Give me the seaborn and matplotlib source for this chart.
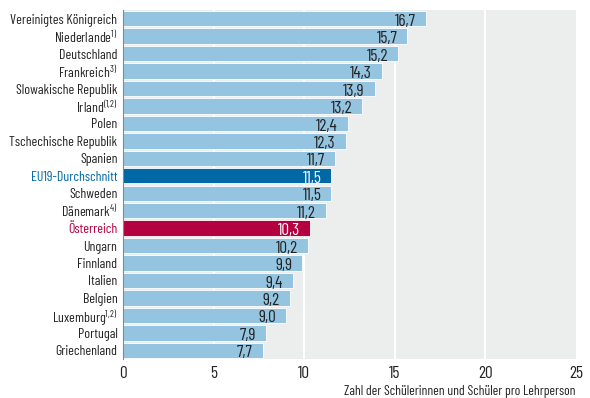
import matplotlib
matplotlib.use('Agg')
import matplotlib.pyplot as plt
from matplotlib import font_manager as fm
import seaborn as sns
import pandas as pd

# data
countries = ['Vereinigtes Königreich', 'Niederlande$^{1)}$', 'Deutschland', 'Frankreich$^{3)}$',
             'Slowakische Republik', 'Irland$^{(1{,}2)}$', 'Polen', 'Tschechische Republik',
             'Spanien', 'EU19-Durchschnitt', 'Schweden', 'Dänemark$^{4)}$', 'Österreich',
             'Ungarn', 'Finnland', 'Italien', 'Belgien', 'Luxemburg$^{1{,}2)}$', 'Portugal',
             'Griechenland']
values = [16.7, 15.7, 15.2, 14.3, 13.9, 13.2, 12.4, 12.3, 11.7, 11.5, 11.5, 11.2, 10.3,
          10.2, 9.9, 9.4, 9.2, 9.0, 7.9, 7.7]
xticks = [0, 5, 10, 15, 20, 25]
xlabel = 'Zahl der Schülerinnen und Schüler pro Lehrperson'

light = '#94c4e0'
eu_col = '#0068a5'
at_col = '#b4003e'
txt = '#222222'

colors = {c: light for c in countries}
colors['EU19-Durchschnitt'] = eu_col
colors['Österreich'] = at_col

df = pd.DataFrame({'land': countries, 'wert': values})

# pick a condensed family if one is there
installed = {f.name for f in fm.fontManager.ttflist}
wanted = ['Barlow Condensed', 'Archivo Narrow', 'Asap Condensed', 'Liberation Sans']
main_font = [f for f in wanted if f in installed][0]

sns.set_style('white')
plt.rcParams['font.family'] = [main_font, 'DejaVu Sans']
plt.rcParams['mathtext.fontset'] = 'custom'
plt.rcParams['mathtext.rm'] = main_font
plt.rcParams['mathtext.default'] = 'rm'

fig = plt.figure(figsize=(5.9, 3.98), dpi=100)
ax = fig.add_axes([123 / 590, 39 / 398, 453 / 590, 349 / 398])
ax.set_facecolor('#eceeee')

sns.barplot(data=df, y='land', x='wert', hue='land', palette=colors, legend=False,
            dodge=False, width=0.88, saturation=1, edgecolor='white', linewidth=0.6,
            ax=ax, zorder=2)

ax.set_xlim(0, 25)
ax.set_xticks(xticks)
ax.set_xticklabels([str(t) for t in xticks], fontsize=12.5, color=txt)
for t in xticks[1:-1]:
    ax.axvline(t, color='white', lw=1.5, zorder=1)

for i, (c, v) in enumerate(zip(countries, values)):
    col = 'white' if c in ('EU19-Durchschnitt', 'Österreich') else txt
    ax.text(v - 0.55, i + 0.15, f'{v:.1f}'.replace('.', ','), ha='right', va='center',
            fontsize=12.5, color=col, zorder=3)

ax.tick_params(axis='x', length=0, pad=5)
ax.tick_params(axis='y', length=0, pad=4, labelsize=10, colors=txt)
for lab in ax.get_yticklabels():
    if lab.get_text() == 'EU19-Durchschnitt':
        lab.set_color(eu_col)
    elif lab.get_text() == 'Österreich':
        lab.set_color(at_col)

ax.set_ylabel('')
ax.set_xlabel(xlabel, fontsize=9.8, color=txt, loc='right', labelpad=3)
for s in ['top', 'right', 'bottom']:
    ax.spines[s].set_visible(False)
ax.spines['left'].set_color('#888888')
ax.spines['left'].set_linewidth(0.8)

fig.savefig('out.png', dpi=100)
